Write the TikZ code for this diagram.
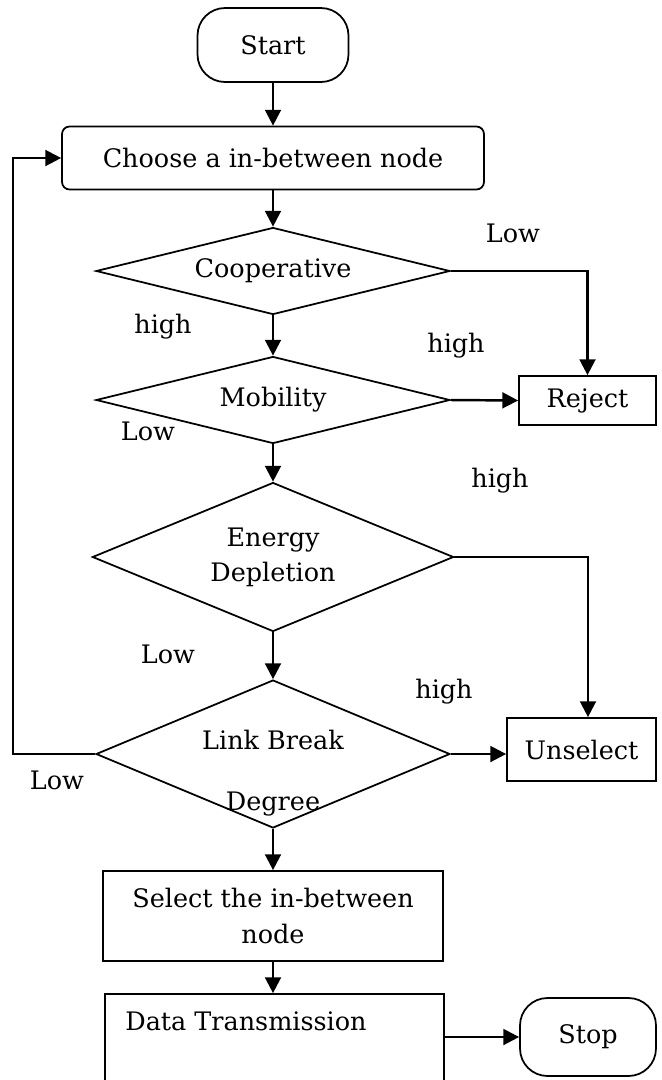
\documentclass[tikz,border=0pt]{standalone}
\usepackage{fontspec}
\setmainfont{DejaVu Serif}
\usetikzlibrary{arrows.meta,shapes.geometric}
\begin{document}
\begin{tikzpicture}[x=0.02cm,y=-0.02cm,
  font=\fontsize{14.5}{20}\selectfont,
  box/.style={draw, line width=1pt, inner sep=0pt, align=center},
  term/.style={box, rounded corners=0.55cm},
  dec/.style={draw, line width=1pt, diamond, aspect=4, inner sep=0pt, align=center},
  conn/.style={line width=1.4pt, -{Triangle[length=9pt,width=9pt]}},
  lab/.style={inner sep=0pt, anchor=base}]
\useasboundingbox (0,0) rectangle (662,1080);

\node[term, minimum width=3.02cm, minimum height=1.48cm] (start) at (273,45) {Start};
\node[box, rounded corners=0.15cm, minimum width=8.44cm, minimum height=1.26cm] (choose) at (273,158) {Choose a in-between node};
\node[dec, minimum width=7.08cm, minimum height=1.74cm] (coop) at (273,271) {Cooperative};
\node[dec, minimum width=7.08cm, minimum height=1.74cm] (mob) at (273,400) {Mobility};
\node[dec, minimum width=7.1cm, minimum height=2.98cm] (energy) at (273,557) {Energy\\Depletion};
\node[dec, minimum width=7.08cm, minimum height=2.96cm] (link) at (273,754) {};
\node[inner sep=0pt, align=center] (linktxt) at (273,773) {Link Break\\[15pt]Degree};
\node[box, minimum width=2.74cm, minimum height=0.98cm] (reject) at (587.5,400.5) {Reject};
\node[box, minimum width=2.98cm, minimum height=1.26cm] (unselect) at (581.5,749.5) {Unselect};
\node[box, minimum width=6.8cm, minimum height=1.8cm] (select) at (273,916) {Select the in-between\\node};
\node[box, minimum width=6.78cm, minimum height=1.8cm] (data) at (274.5,1039) {};
\node[inner sep=0pt, anchor=base west] (datatxt) at (125,1030) {Data Transmission};
\node[term, minimum width=2.72cm, minimum height=1.56cm] (stop) at (588,1037) {Stop};

\node[lab] (l1) at (513,242) {Low};
\node[lab] (l2) at (163,333) {high};
\node[lab] (l3) at (456,352) {high};
\node[lab] (l4) at (148,440) {Low};
\node[lab] (l5) at (500,487) {high};
\node[lab] (l6) at (168,663) {Low};
\node[lab] (l7) at (444,698) {high};
\node[lab] (l8) at (57,789) {Low};

\draw[conn] (start) -- (choose);
\draw[conn] (choose) -- (coop);
\draw[conn] (coop) -- (mob);
\draw[conn] (mob) -- (energy);
\draw[conn] (energy) -- (link);
\draw[conn] (link) -- (select);
\draw[conn] (select) -- (data.north -| select.south);
\draw[conn] (coop.east) -| (reject.north);
\draw[conn] (mob.east) -- (reject.west);
\draw[conn] (energy.east) -| ([xshift=0.13cm]unselect.north);
\draw[conn] (link.east) -- (link.east -| unselect.west);
\draw[conn] (link.west) -- ++(-82,0) |- (choose.west);
\draw[conn] (data.east |- stop.west) -- (stop.west);
\end{tikzpicture}
\end{document}
